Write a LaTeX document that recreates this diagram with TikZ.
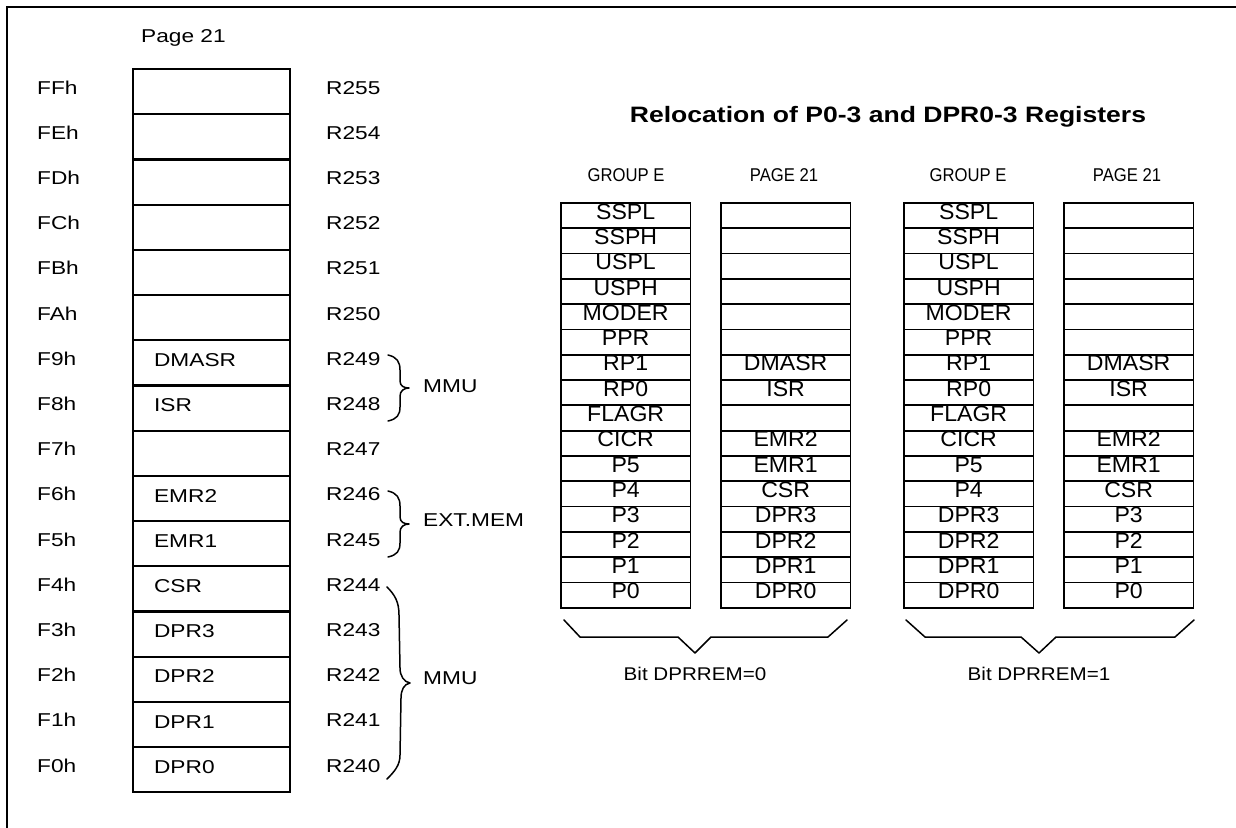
\documentclass[tikz,border=0pt]{standalone}
\usepackage{fontspec}
\setmainfont{Liberation Sans}
\newfontfamily\lblf{Liberation Sans}[FakeStretch=1.22]
\newfontfamily\tabf{Liberation Sans}[FakeStretch=1.05]
\newfontfamily\hdrf{Liberation Sans}[FakeStretch=0.9]
\newfontfamily\ttlf{Liberation Sans}[FakeStretch=1.19]
\newfontfamily\bitf{Liberation Sans}[FakeStretch=1.12]
\begin{document}
\begin{tikzpicture}[x=1pt,y=-1pt,
  txt/.style={inner sep=0pt, text height=0.716em, text depth=0pt},
  lbl/.style={txt, anchor=west, font=\lblf\fontsize{18.6}{21}\selectfont},
  lcell/.style={draw, line width=2.2pt, minimum width=157pt, minimum height=45.2pt,
    inner xsep=21pt, inner ysep=0pt, text width=115pt, align=left, anchor=north west,
    text height=0.716em, text depth=0pt, font=\lblf\fontsize{18.6}{21}\selectfont},
  tcell/.style={draw, line width=1.8pt, minimum width=129.5pt, minimum height=25.3pt,
    inner sep=0pt, anchor=north west, text height=0.716em, text depth=0pt,
    font=\tabf\fontsize{22}{24}\selectfont},
  hdr/.style={txt, font=\hdrf\fontsize{18.5}{20}\selectfont},
  ttl/.style={txt, font=\ttlf\bfseries\fontsize{22.3}{24}\selectfont},
  bitl/.style={txt, font=\bitf\fontsize{18.4}{20}\selectfont},
  brace/.style={line width=1.5pt, line join=round, line cap=round},
  frame/.style={line width=2.5pt}]
\useasboundingbox (0,0) rectangle (1236,827);
\draw[frame] (1240,7) -- (7,7) -- (7,830);

% left table
\node[lbl] (pg) at (141,39) {Page 21};
\foreach \t [count=\i] in {,,,,,,DMASR,ISR,,EMR2,EMR1,CSR,DPR3,DPR2,DPR1,DPR0} {
  \node[lcell] (L\i) at (132,{68+45.2*(\i-1)}) {\t};
}
\foreach \a [count=\i] in {FFh,FEh,FDh,FCh,FBh,FAh,F9h,F8h,F7h,F6h,F5h,F4h,F3h,F2h,F1h,F0h} {
  \node[lbl] (A\i) at (37,{68+45.2*(\i-0.5)}) {\a};
}
\foreach \r [count=\i] in {255,254,253,252,251,250,249,248,247,246,245,244,243,242,241,240} {
  \node[lbl] (R\i) at (326,{68+45.2*(\i-0.5)}) {R\r};
}

% left braces
\draw[brace] (388,355) .. controls (397,357) and (400,362) .. (400,370) -- (400,381)
  .. controls (400,386) and (404,388) .. (409,388)
  .. controls (404,388) and (400,391) .. (400,396) -- (400,407)
  .. controls (400,415) and (397,419) .. (388,421);
\node[lbl] (m1) at (423,389) {MMU};
\draw[brace] (388,491) .. controls (397,493) and (400,498) .. (400,506) -- (400,517)
  .. controls (400,522) and (404,524) .. (409,524)
  .. controls (404,524) and (400,527) .. (400,532) -- (400,543)
  .. controls (400,551) and (397,555) .. (388,557);
\node[lbl] (em) at (423,523) {EXT.MEM};
\draw[brace] (387,587) .. controls (395,595) and (399,602) .. (399,615) -- (400,668)
  .. controls (400,676) and (404,682) .. (410,683)
  .. controls (404,684) and (401,690) .. (401,698) -- (400,755)
  .. controls (400,765) and (395,771) .. (387,779);
\node[lbl] (m2) at (423,681) {MMU};

% title
\node[ttl] (title) at (888,119) {Relocation of P0-3 and DPR0-3 Registers};

% headers
\node[hdr] (h1) at (626,178) {GROUP E};
\node[hdr] (h2) at (784,178) {PAGE 21};
\node[hdr] (h3) at (968,178) {GROUP E};
\node[hdr] (h4) at (1127,178) {PAGE 21};

% right tables
\foreach \t [count=\i] in {SSPL,SSPH,USPL,USPH,MODER,PPR,RP1,RP0,FLAGR,CICR,P5,P4,P3,P2,P1,P0} {
  \node[tcell] (T\i) at (560,{202+25.3*(\i-1)}) {\t};
}
\foreach \t [count=\i] in {,,,,,,DMASR,ISR,,EMR2,EMR1,CSR,DPR3,DPR2,DPR1,DPR0} {
  \node[tcell] (U\i) at (720,{202+25.3*(\i-1)}) {\t};
}
\foreach \t [count=\i] in {SSPL,SSPH,USPL,USPH,MODER,PPR,RP1,RP0,FLAGR,CICR,P5,P4,DPR3,DPR2,DPR1,DPR0} {
  \node[tcell] (V\i) at (903,{202+25.3*(\i-1)}) {\t};
}
\foreach \t [count=\i] in {,,,,,,DMASR,ISR,,EMR2,EMR1,CSR,P3,P2,P1,P0} {
  \node[tcell] (W\i) at (1063,{202+25.3*(\i-1)}) {\t};
}

% bottom braces
\draw[brace] (564,620) -- (580,637) -- (678,637) -- (695,653) -- (711,637) -- (828,637) -- (847,620);
\draw[brace] (906,620) -- (925,637) -- (1021,637) -- (1039,653) -- (1056,637) -- (1175,637) -- (1194,620);
\node[bitl] (b0) at (695,677) {Bit DPRREM=0};
\node[bitl] (b1) at (1039,677) {Bit DPRREM=1};
\end{tikzpicture}
\end{document}
